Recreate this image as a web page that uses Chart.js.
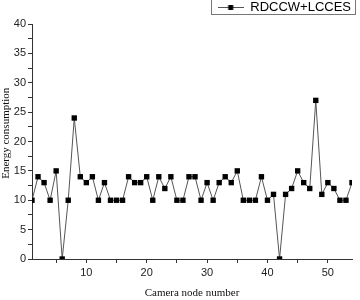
<!DOCTYPE html>
<html>
<head>
<meta charset="utf-8">
<script src="https://cdn.jsdelivr.net/npm/chart.js@4/dist/chart.umd.min.js"></script>
<style>
  html, body { margin: 0; padding: 0; background: #fff; }
</style>
</head>
<body>
<canvas id="myChart" width="360" height="300"></canvas>
<script>
// camera nodes and energy
const nodes = [1, 2, 3, 4, 5, 6, 7, 8, 9, 10, 11, 12, 13, 14, 15, 16, 17, 18,
  19, 20, 21, 22, 23, 24, 25, 26, 27, 28, 29, 30, 31, 32, 33, 34, 35, 36,
  37, 38, 39, 40, 41, 42, 43, 44, 45, 46, 47, 48, 49, 50, 51, 52, 53, 54];
const energy = [10, 14, 13, 10, 15, 0, 10, 24, 14, 13, 14, 10, 13, 10, 10, 10, 14, 13,
  13, 14, 10, 14, 12, 14, 10, 10, 14, 14, 10, 13, 10, 13, 14, 13, 15, 10,
  10, 10, 14, 10, 11, 0, 11, 12, 15, 13, 12, 27, 11, 13, 12, 10, 10, 13];
const seriesName = "RDCCW+LCCES";
const xLabelTicks = [10, 20, 30, 40, 50];
const yLabelTicks = [0, 5, 10, 15, 20, 25, 30, 35, 40];

const axisColor = "#333";
const sans = "'Liberation Sans', Arial, sans-serif";
const serif = "'Liberation Serif', 'Times New Roman', serif";

// legend marker: line through a square
const marker = document.createElement("canvas");
marker.width = 26;
marker.height = 7;
const mctx = marker.getContext("2d");
mctx.strokeStyle = "#555";
mctx.lineWidth = 1;
mctx.beginPath();
mctx.moveTo(0, 3.5);
mctx.lineTo(26, 3.5);
mctx.stroke();
mctx.fillStyle = "#000";
mctx.fillRect(10.5, 1, 5, 5);

const legendFrame = {
  id: "legendFrame",
  afterDraw(chart) {
    const box = chart.legend.legendHitBoxes[0];
    if (!box) return;
    const c = chart.ctx;
    c.save();
    c.strokeStyle = "#777";
    c.lineWidth = 1;
    const l = Math.round(box.left) - 6.5;
    const r = Math.round(box.left + box.width) + 4.5;
    c.strokeRect(l, Math.round(box.top) - 1.5, r - l, Math.round(box.height) + 2);
    c.restore();
  },
};

const ctx = document.getElementById("myChart");
new Chart(ctx, {
  type: "line",
  data: {
    datasets: [
      {
        label: seriesName,
        data: nodes.map((n, i) => ({ x: n, y: energy[i] })),
        borderColor: "#555",
        borderWidth: 1,
        tension: 0,
        pointStyle: "rect",
        pointRadius: 3.8,
        pointBackgroundColor: "#000",
        pointBorderColor: "#000",
        pointBorderWidth: 0,
      },
    ],
  },
  options: {
    responsive: false,
    animation: false,
    layout: { padding: { left: 0, right: 8, top: 0, bottom: 0 } },
    plugins: {
      tooltip: { enabled: false },
      legend: {
        position: "top",
        align: "end",
        labels: {
          color: "#111",
          font: { family: sans, size: 13 },
          usePointStyle: true,
          pointStyleWidth: 26,
          boxHeight: 7,
          padding: 1,
          generateLabels: () => [
            { text: seriesName, pointStyle: marker, fillStyle: "#000", strokeStyle: "#000", lineWidth: 0 },
          ],
        },
      },
    },
    scales: {
      x: {
        type: "linear",
        min: 1,
        max: 54,
        afterFit: (s) => { s.height = 41; },
        border: { display: true, color: axisColor, width: 1 },
        grid: { drawOnChartArea: false, drawTicks: true, tickLength: 4, color: axisColor },
        ticks: {
          stepSize: 5,
          includeBounds: false,
          maxRotation: 0,
          autoSkip: false,
          padding: 3,
          color: "#222",
          font: { family: sans, size: 11 },
          callback: (v) => (xLabelTicks.includes(v) ? v : ""),
        },
        title: {
          display: true,
          text: "Camera node number",
          color: "#111",
          font: { family: serif, size: 11 },
          padding: { top: 6, bottom: 0 },
        },
      },
      y: {
        min: 0,
        max: 40,
        afterFit: (s) => { s.width = 32; },
        border: { display: true, color: axisColor, width: 1 },
        grid: { drawOnChartArea: false, drawTicks: true, tickLength: 4, color: axisColor },
        ticks: {
          stepSize: 2.5,
          autoSkip: false,
          padding: 2,
          color: "#222",
          font: { family: sans, size: 11 },
          callback: (v) => (yLabelTicks.includes(v) ? v : ""),
        },
        title: {
          display: true,
          // leading blanks lift the title a little, as in the figure
          text: "\u00a0\u00a0\u00a0\u00a0\u00a0\u00a0Energy consumption",
          color: "#111",
          font: { family: serif, size: 11 },
          padding: 0,
        },
      },
    },
  },
  plugins: [legendFrame],
});
</script>
</body>
</html>
